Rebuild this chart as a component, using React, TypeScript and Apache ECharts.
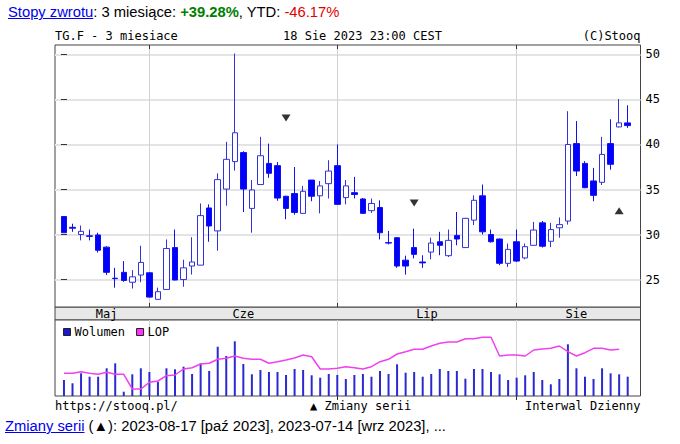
import React, { useEffect, useRef } from "react";
import * as echarts from "echarts";

const tradingDays = [
  "2023-05-18","2023-05-19","2023-05-22","2023-05-23","2023-05-24","2023-05-25","2023-05-26","2023-05-29","2023-05-30","2023-05-31",
  "2023-06-01","2023-06-02","2023-06-05","2023-06-06","2023-06-07","2023-06-08","2023-06-09","2023-06-12","2023-06-13","2023-06-14","2023-06-15","2023-06-16","2023-06-19","2023-06-20","2023-06-21","2023-06-22","2023-06-23","2023-06-26","2023-06-27","2023-06-28","2023-06-29","2023-06-30",
  "2023-07-03","2023-07-04","2023-07-05","2023-07-06","2023-07-07","2023-07-10","2023-07-11","2023-07-12","2023-07-13","2023-07-14","2023-07-17","2023-07-18","2023-07-19","2023-07-20","2023-07-21","2023-07-24","2023-07-25","2023-07-26","2023-07-27","2023-07-28","2023-07-31",
  "2023-08-01","2023-08-02","2023-08-03","2023-08-04","2023-08-07","2023-08-08","2023-08-09","2023-08-10","2023-08-11","2023-08-14","2023-08-15","2023-08-16","2023-08-17","2023-08-18",
];

const opens = [
  32.0,30.8,30.0,29.85,29.95,28.6,25.15,25.8,24.7,25.5,
  25.75,22.8,23.9,28.55,25.0,26.5,26.6,32.95,30.4,35.05,38.1,39.1,32.9,35.55,37.9,37.65,34.25,34.55,32.35,36.05,34.3,35.65,
  37.65,34.1,34.65,33.95,32.65,33.0,29.1,29.65,27.15,28.55,26.95,28.05,29.2,27.65,29.9,28.55,31.6,34.3,30.0,29.5,26.8,
  29.2,27.4,28.8,31.3,29.25,30.75,31.5,40.1,37.9,35.95,35.8,40.1,41.95,42.4,
];
const closes = [
  30.2,30.7,30.35,29.8,28.25,25.8,25.1,24.9,25.3,26.9,
  23.05,23.65,28.45,24.95,26.3,26.95,32.1,30.95,36.1,38.35,41.3,35.05,34.95,38.75,36.8,34.05,32.9,32.45,34.8,34.25,35.4,37.05,
  33.35,35.4,34.45,32.35,33.45,30.2,29.05,26.5,26.5,27.8,26.85,29.05,28.8,29.35,29.5,31.8,33.8,30.3,29.2,26.8,28.35,
  27.05,28.65,30.5,28.7,30.55,31.1,40.0,37.05,35.2,34.35,38.9,37.8,42.4,42.1,
];
const lows = [
  30.2,30.3,29.35,29.35,28.0,25.5,24.1,24.75,24.0,24.7,
  23.0,22.8,23.9,24.9,24.2,25.55,26.6,29.2,28.2,33.2,37.1,32.5,30.2,35.5,36.3,33.75,31.7,32.2,32.3,33.7,32.35,34.0,
  33.3,33.35,34.0,32.3,32.4,29.45,28.9,26.3,25.55,27.35,26.3,27.25,27.7,27.5,28.8,28.55,31.05,30.0,29.1,26.6,26.4,
  26.95,27.25,28.8,28.55,28.6,29.65,31.1,36.5,35.15,33.7,35.5,37.2,41.9,41.85,
];
const highs = [
  32.0,31.2,31.0,30.55,30.2,28.7,26.3,27.05,26.05,28.75,
  25.8,24.1,29.45,30.55,27.2,29.7,33.45,33.35,36.8,40.3,50.1,39.25,36.05,40.85,40.1,38.05,34.3,37.5,35.4,36.05,35.95,38.25,
  40.0,36.05,36.4,34.05,34.0,33.8,30.4,29.7,27.65,30.65,27.7,29.65,30.3,30.55,32.5,31.85,34.35,35.55,30.55,29.55,29.0,
  30.55,29.0,31.4,31.5,31.3,31.9,43.7,42.6,38.15,37.4,40.85,42.8,45.05,44.35,
];
const volumes = [
  160,127,227,193,193,277,327,43,217,277,
  240,143,277,267,293,220,327,250,493,400,547,320,217,260,240,240,210,270,260,207,183,220,
  210,170,210,220,193,250,220,317,233,240,193,220,270,250,250,173,270,270,240,217,160,
  183,207,240,160,117,170,517,277,193,170,277,227,217,193,
];
const lop = [
  227,227,243,227,217,237,217,217,70,70,
  137,150,203,210,270,283,320,327,367,377,400,377,367,367,327,343,360,380,410,393,270,270,
  277,293,283,270,293,343,367,420,443,467,467,500,527,540,540,573,573,587,587,400,410,
  410,400,460,470,477,500,443,400,433,477,477,460,467,null,
];

const monthNames = ["Maj", "Cze", "Lip", "Sie"];
const priceTicks = [25, 30, 35, 40, 45, 50];
const seriesChangeDates = ["2023-06-23", "2023-07-14", "2023-08-17"];
const seriesChangeLevels = [42.95, 33.5, 32.65];
const seriesChangeUp = [false, false, true];

const MONO = "'DejaVu Sans Mono', monospace";

export default function App() {
  const ref = useRef<HTMLDivElement>(null);

  useEffect(() => {
    document.body.style.margin = "0";
    const chart = echarts.init(ref.current!, null, { renderer: "svg" });

    const n = tradingDays.length;
    const monthStarts: number[] = [];
    tradingDays.forEach((d, i) => {
      if (i === 0 || d.slice(5, 7) !== tradingDays[i - 1].slice(5, 7)) monthStarts.push(i);
    });
    const boundaries = monthStarts.slice(1);
    const labelPos = monthStarts.map((s, k) => {
      const e = k + 1 < monthStarts.length ? monthStarts[k + 1] : n;
      return (s + e) / 2;
    });

    const xMin = -1.05;
    const xMax = 67.5;

    const candleData = tradingDays.map((_, i) => [i, opens[i], closes[i], lows[i], highs[i]]);
    const volData = volumes.map((v, i) => [i, v]);
    const lopData = lop.map((v, i) => [i, v]);
    const markerData = seriesChangeDates.map((d, k) => ({
      value: [tradingDays.indexOf(d), seriesChangeLevels[k]],
      symbolRotate: seriesChangeUp[k] ? 0 : 180,
    }));

    const tickStyle = { color: "#333", width: 1 };

    const option: any = {
      animation: false,
      textStyle: { fontFamily: MONO },
      grid: [
        { left: 55, top: 45, width: 585.5, height: 262, show: true, borderColor: "#444", borderWidth: 1, backgroundColor: "#fff" },
        { left: 55, top: 320, width: 585.5, height: 76, show: true, borderColor: "#444", borderWidth: 1, backgroundColor: "#fff" },
      ],
      xAxis: [
        {
          gridIndex: 0, type: "value", min: xMin, max: xMax, position: "bottom",
          axisLine: { show: false },
          axisTick: { show: true, inside: true, length: 4, customValues: boundaries, lineStyle: tickStyle },
          splitLine: { show: true, lineStyle: { color: "#d2d2d2", width: 1 } },
          axisLabel: {
            customValues: labelPos,
            formatter: (v: number) => {
              const k = labelPos.indexOf(v);
              return k >= 0 ? monthNames[k] : "";
            },
            fontFamily: MONO, fontSize: 12, color: "#000", margin: 1,
          },
        },
        {
          gridIndex: 0, type: "value", min: xMin, max: xMax, position: "top",
          axisLine: { show: false },
          axisTick: { show: true, inside: true, length: 4, customValues: boundaries, lineStyle: tickStyle },
          splitLine: { show: false },
          axisLabel: { show: false },
        },
        {
          gridIndex: 1, type: "value", min: xMin, max: xMax, position: "top",
          axisLine: { show: false },
          axisTick: { show: true, inside: true, length: 4, customValues: boundaries, lineStyle: tickStyle },
          splitLine: { show: true, lineStyle: { color: "#d2d2d2", width: 1 } },
          axisLabel: { show: false },
        },
      ],
      yAxis: [
        {
          gridIndex: 0, type: "value", min: 21.95, max: 51.05, position: "right",
          axisLine: { show: false },
          axisTick: { show: true, inside: true, length: 3, customValues: priceTicks, lineStyle: tickStyle },
          axisLabel: { customValues: priceTicks, margin: 5, fontFamily: MONO, fontSize: 12, color: "#000" },
          splitLine: { show: true, lineStyle: { color: "#e4e4e4", width: 2 } },
        },
        {
          gridIndex: 0, type: "value", min: 21.95, max: 51.05, position: "left",
          axisLine: { show: false },
          axisTick: { show: true, inside: true, length: 3, customValues: priceTicks, lineStyle: tickStyle },
          axisLabel: { show: false },
          splitLine: { show: false },
        },
        { gridIndex: 1, type: "value", min: 0, max: 760, show: false, splitLine: { show: false } },
      ],
      legend: {
        left: 58, top: 321, orient: "horizontal", selectedMode: false,
        icon: "rect", itemWidth: 7, itemHeight: 7, itemGap: 11,
        textStyle: { fontFamily: MONO, fontSize: 12, color: "#000", padding: [0, 0, 0, -1] },
        itemStyle: { borderColor: "#222", borderWidth: 1 },
        data: [
          { name: "Wolumen", itemStyle: { color: "#1a1acc" } },
          { name: "LOP", itemStyle: { color: "#ff33ff" } },
        ],
      },
      series: [
        {
          type: "candlestick", name: "TG.F", xAxisIndex: 0, yAxisIndex: 0,
          data: candleData, barWidth: 6,
          encode: { x: 0, y: [1, 2, 3, 4] },
          itemStyle: { color: "#ffffff", color0: "#0000ff", borderColor: "#3333dd", borderColor0: "#1010ee", borderWidth: 1 },
        },
        {
          type: "scatter", name: "Zmiany serii", xAxisIndex: 0, yAxisIndex: 0,
          symbol: "triangle", symbolSize: [9, 7],
          itemStyle: { color: "#000" },
          data: markerData,
        },
        {
          type: "bar", name: "Wolumen", xAxisIndex: 2, yAxisIndex: 2,
          data: volData, barWidth: 2,
          itemStyle: { color: "#2a2ad0" },
        },
        {
          type: "line", name: "LOP", xAxisIndex: 2, yAxisIndex: 2,
          data: lopData, showSymbol: false, symbol: "none",
          lineStyle: { color: "#f040f0", width: 1.5 },
          itemStyle: { color: "#ff33ff" },
        },
      ],
      graphic: [
        { type: "rect", z: -1, shape: { x: 55, y: 307, width: 585.5, height: 13 }, style: { fill: "#e8e8e8", stroke: "#444", lineWidth: 1 } },
        { type: "text", style: { text: "TG.F - 3 miesiace", x: 55, y: 35.5, fill: "#000", font: `12px ${MONO}`, align: "left", verticalAlign: "middle" } },
        { type: "text", style: { text: "18 Sie 2023 23:00 CEST", x: 283, y: 35.5, fill: "#000", font: `12px ${MONO}`, align: "left", verticalAlign: "middle" } },
        { type: "text", style: { text: "(C)Stooq", x: 640.5, y: 35.5, fill: "#000", font: `12px ${MONO}`, align: "right", verticalAlign: "middle" } },
        { type: "text", style: { text: "https://stooq.pl/", x: 55, y: 405.5, fill: "#000", font: `12px ${MONO}`, align: "left", verticalAlign: "middle" } },
        { type: "text", style: { text: "▲ Zmiany serii", x: 310, y: 405.5, fill: "#000", font: `12px ${MONO}`, align: "left", verticalAlign: "middle" } },
        { type: "text", style: { text: "Interwal Dzienny", x: 640.5, y: 405.5, fill: "#000", font: `12px ${MONO}`, align: "right", verticalAlign: "middle" } },
      ],
    };

    chart.setOption(option);
    return () => chart.dispose();
  }, []);

  const lineStyle: React.CSSProperties = {
    position: "absolute",
    fontFamily: "'Liberation Sans', Arial, sans-serif",
    fontSize: 14.75,
    lineHeight: "16px",
    whiteSpace: "nowrap",
    color: "#000",
  };
  const linkStyle: React.CSSProperties = { color: "#0000ee", textDecoration: "underline" };

  return (
    <div style={{ position: "relative", width: 680, height: 444, background: "#fff", overflow: "hidden" }}>
      <div ref={ref} style={{ position: "absolute", left: 0, top: 0, width: 680, height: 444 }} />
      <div style={{ ...lineStyle, left: 8, top: 4 }}>
        <span style={linkStyle}>Stopy zwrotu</span>: 3 miesiące: <b style={{ color: "#008000" }}>+39.28%</b>, YTD: <span style={{ color: "#e00000" }}>-46.17%</span>
      </div>
      <div style={{ ...lineStyle, left: 5, top: 418 }}>
        <span style={linkStyle}>Zmiany serii</span> (▲): 2023-08-17 [paź 2023], 2023-07-14 [wrz 2023], ...
      </div>
    </div>
  );
}
